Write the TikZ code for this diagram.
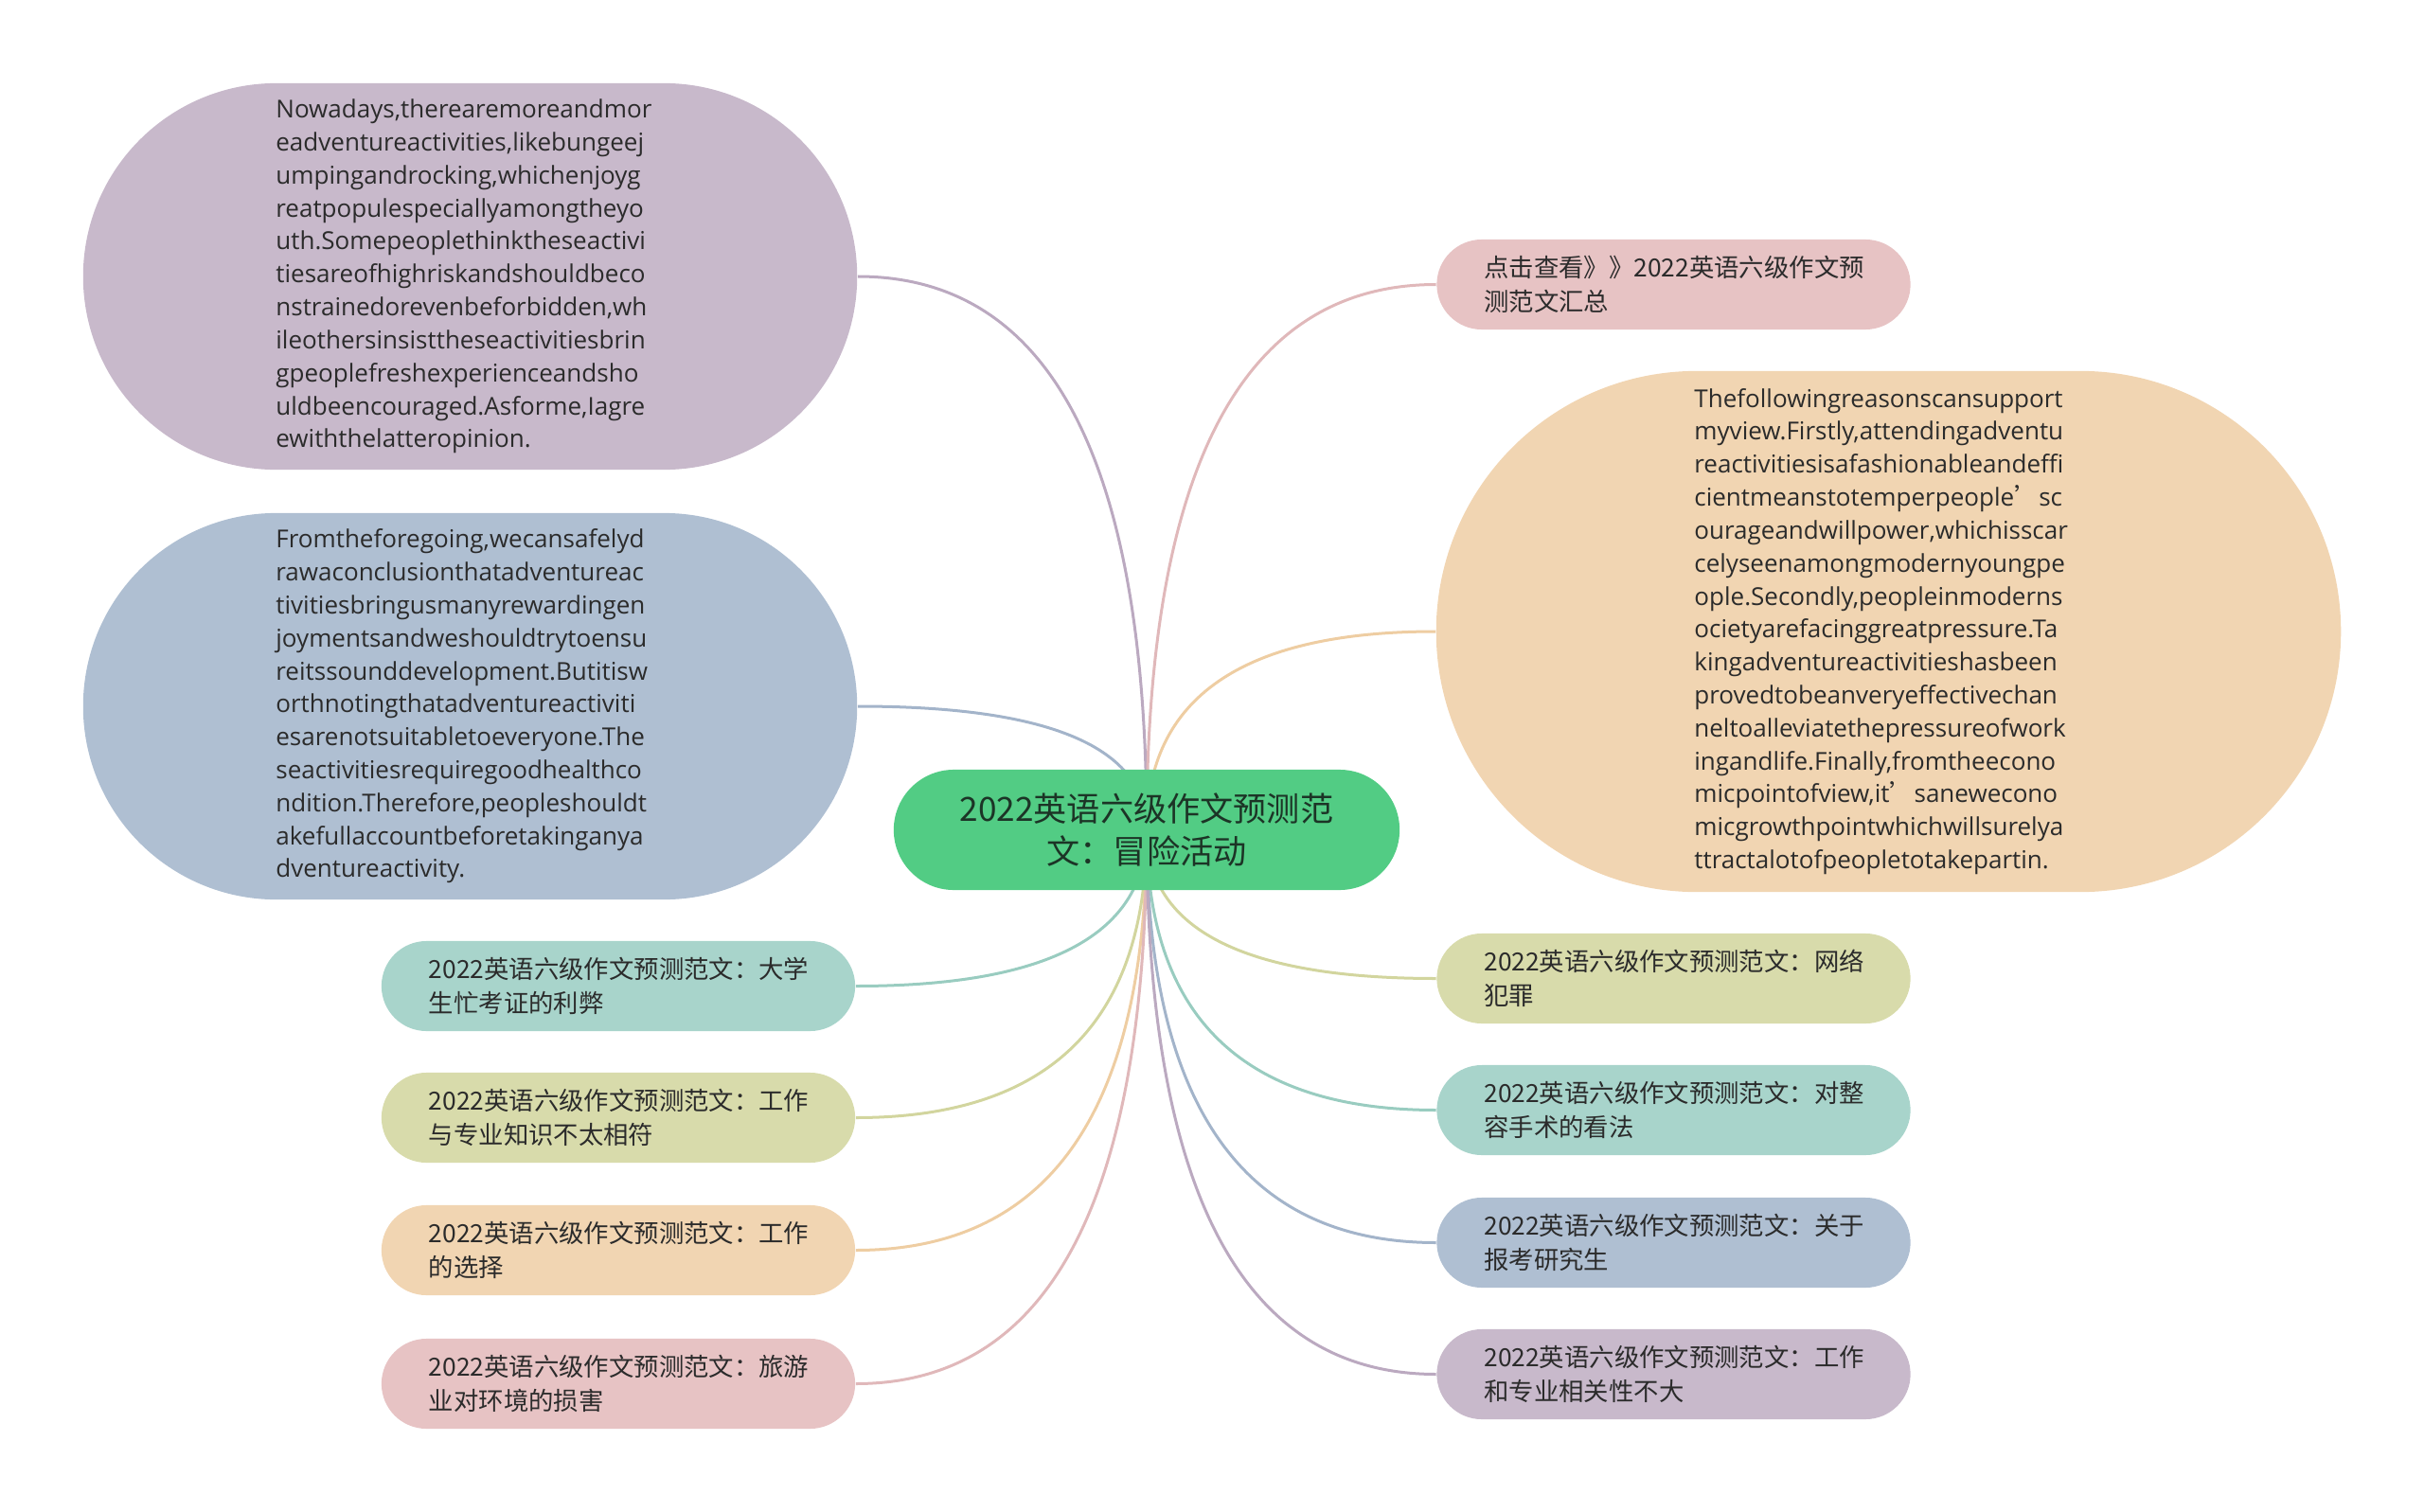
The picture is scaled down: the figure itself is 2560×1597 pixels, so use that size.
\documentclass[tikz,border=0pt]{standalone}
\usepackage{fontspec}
\setmainfont{Open Sans}
\newfontfamily\cjk{Noto Sans CJK SC}
\usetikzlibrary{calc,backgrounds}
\hyphenpenalty=10000
\exhyphenpenalty=10000

\definecolor{rootgreen}{HTML}{52CC84}
\definecolor{roottext}{HTML}{1C3426}
\definecolor{txtgray}{HTML}{2B2B2B}
\definecolor{fpurple}{HTML}{C8B9CB}
\definecolor{fblue}{HTML}{AFBFD2}
\definecolor{forange}{HTML}{F1D5B2}
\definecolor{fpink}{HTML}{E7C3C4}
\definecolor{fteal}{HTML}{A8D4CB}
\definecolor{folive}{HTML}{D8DBAB}
\definecolor{lpurple}{HTML}{BBA9C0}
\definecolor{lblue}{HTML}{A3B4CA}
\definecolor{lorange}{HTML}{EECDA2}
\definecolor{lpink}{HTML}{E0B8BA}
\definecolor{lteal}{HTML}{99CCC0}
\definecolor{lolive}{HTML}{D2D59E}

\tikzset{
  root/.style={rectangle, rounded corners=0.635cm, fill=rootgreen, minimum width=5.34cm,
    minimum height=1.27cm, align=center, text=roottext, font=\cjk\fontsize{10}{13}\selectfont},
  topic/.style={rectangle, rounded corners=0.475cm, fill=#1, text width=4cm, inner xsep=0.5cm,
    inner ysep=0.05cm, minimum height=0.95cm, align=left, text=txtgray,
    font=\cjk\fontsize{7.5}{10.2}\selectfont},
  essay/.style={rectangle, rounded corners=2.04cm, fill=#1, text width=4.1cm, inner xsep=2.035cm,
    inner ysep=0.1cm, minimum height=4.08cm, align=left, text=txtgray,
    font=\fontsize{7.4}{9.9}\selectfont},
  link/.style={draw=#1, line width=0.03cm},
}

\begin{document}
\begin{tikzpicture}[x=0.01cm,y=-0.01cm]
\useasboundingbox (0,0) rectangle (2560,1597);
% centre
\node[root] (root) at (1211,876.5) {2022英语六级作文预测范\\文：冒险活动};
% left side
\node[essay=fpurple] (nw) at (496.5,292) {Nowadays,therearemoreandmor\\eadventureactivities,likebungeej\\umpingandrocking,whichenjoyg\\reatpopulespeciallyamongtheyo\\uth.Somepeoplethinktheseactivi\\tiesareofhighriskandshouldbeco\\nstrainedorevenbeforbidden,wh\\ileothersinsisttheseactivitiesbrin\\gpeoplefreshexperienceandsho\\uldbeencouraged.Asforme,Iagre\\ewiththelatteropinion.};
\node[essay=fblue] (w2) at (496.5,746) {Fromtheforegoing,wecansafelyd\\rawaconclusionthatadventureac\\tivitiesbringusmanyrewardingen\\joymentsandweshouldtrytoensu\\reitssounddevelopment.Butitisw\\orthnotingthatadventureactiviti\\esarenotsuitabletoeveryone.The\\seactivitiesrequiregoodhealthco\\ndition.Therefore,peopleshouldt\\akefullaccountbeforetakinganya\\dventureactivity.};
\node[topic=fteal] (w3) at (653,1041.5) {2022英语六级作文预测范文：大学\\生忙考证的利弊};
\node[topic=folive] (w4) at (653,1180.5) {2022英语六级作文预测范文：工作\\与专业知识不太相符};
\node[topic=forange] (w5) at (653,1320.5) {2022英语六级作文预测范文：工作\\的选择};
\node[topic=fpink] (w6) at (653,1461.5) {2022英语六级作文预测范文：旅游\\业对环境的损害};
% right side
\node[topic=fpink] (ne) at (1767.5,300.5) {点击查看》》2022英语六级作文预\\测范文汇总};
\node[essay=forange, rounded corners=2.75cm, inner xsep=2.725cm, minimum height=5.5cm] (e2) at (1994.5,667) {Thefollowingreasonscansupport\\myview.Firstly,attendingadventu\\reactivitiesisafashionableandeffi\\cientmeanstotemperpeople{\cjk ’}sc\\ourageandwillpower,whichisscar\\celyseenamongmodernyoungpe\\ople.Secondly,peopleinmoderns\\ocietyarefacinggreatpressure.Ta\\kingadventureactivitieshasbeen\\provedtobeanveryeffectivechan\\neltoalleviatethepressureofwork\\ingandlife.Finally,fromtheecono\\micpointofview,it{\cjk ’}sanewecono\\micgrowthpointwhichwillsurelya\\ttractalotofpeopletotakepartin.};
\node[topic=folive] (e3) at (1767.5,1033.5) {2022英语六级作文预测范文：网络\\犯罪};
\node[topic=fteal] (e4) at (1767.5,1172.5) {2022英语六级作文预测范文：对整\\容手术的看法};
\node[topic=fblue] (e5) at (1767.5,1312.5) {2022英语六级作文预测范文：关于\\报考研究生};
\node[topic=fpurple] (e6) at (1767.5,1451.5) {2022英语六级作文预测范文：工作\\和专业相关性不大};
% branches
\begin{scope}[on background layer]
\foreach \n/\a/\c in {nw/east/lpurple, w2/east/lblue, w3/east/lteal, w4/east/lolive,
    w5/east/lorange, w6/east/lpink, ne/west/lpink, e2/west/lorange, e3/west/lolive,
    e4/west/lteal, e5/west/lblue, e6/west/lpurple}
  \draw[link=\c] (root.center) .. controls ($(root.center)!.667!(root.center |- \n.\a)$)
    and ($(\n.\a)!.667!(root.center |- \n.\a)$) .. (\n.\a);
\end{scope}
\end{tikzpicture}
\end{document}
